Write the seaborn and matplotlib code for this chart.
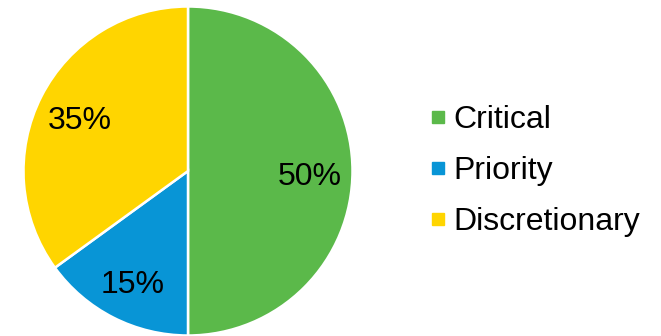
import matplotlib
matplotlib.use("Agg")
import matplotlib.pyplot as plt
import seaborn as sns
from matplotlib.lines import Line2D

categories = ["Critical", "Priority", "Discretionary"]
shares = [50, 15, 35]
colors = ["#5BB94A", "#0895D6", "#FFD500"]

sns.set_theme(style="white")
plt.rcParams["font.family"] = ["Liberation Sans", "DejaVu Sans"]

fig = plt.figure(figsize=(6.61, 3.36), dpi=100)
ax = fig.add_axes([23.5 / 661, 0.5 / 336, 329 / 661, 329 / 336])

wedges, texts, autotexts = ax.pie(
    shares, colors=colors, startangle=90, counterclock=False,
    autopct="%d%%", pctdistance=0.74, radius=1,
    wedgeprops=dict(edgecolor="white", linewidth=1.8),
    textprops=dict(fontsize=23, color="black"),
)
# labels sit a little low in the original
for t in autotexts:
    x, y = t.get_position()
    t.set_position((x, y - 0.035))

ax.set_xlim(-1, 1)
ax.set_ylim(-1, 1)
ax.set_aspect("equal")
ax.axis("off")

handles = [Line2D([0], [0], marker="s", linestyle="none", markersize=8.5,
                  markerfacecolor=c, markeredgecolor=c) for c in colors]
fig.legend(handles, categories, loc="center left",
           bbox_to_anchor=(428 / 661, 1 - 171 / 336), frameon=False,
           fontsize=23, labelcolor="black", handlelength=0.6, handletextpad=0.2,
           labelspacing=0.65, borderaxespad=0, borderpad=0)

fig.savefig("out.png", dpi=100)
